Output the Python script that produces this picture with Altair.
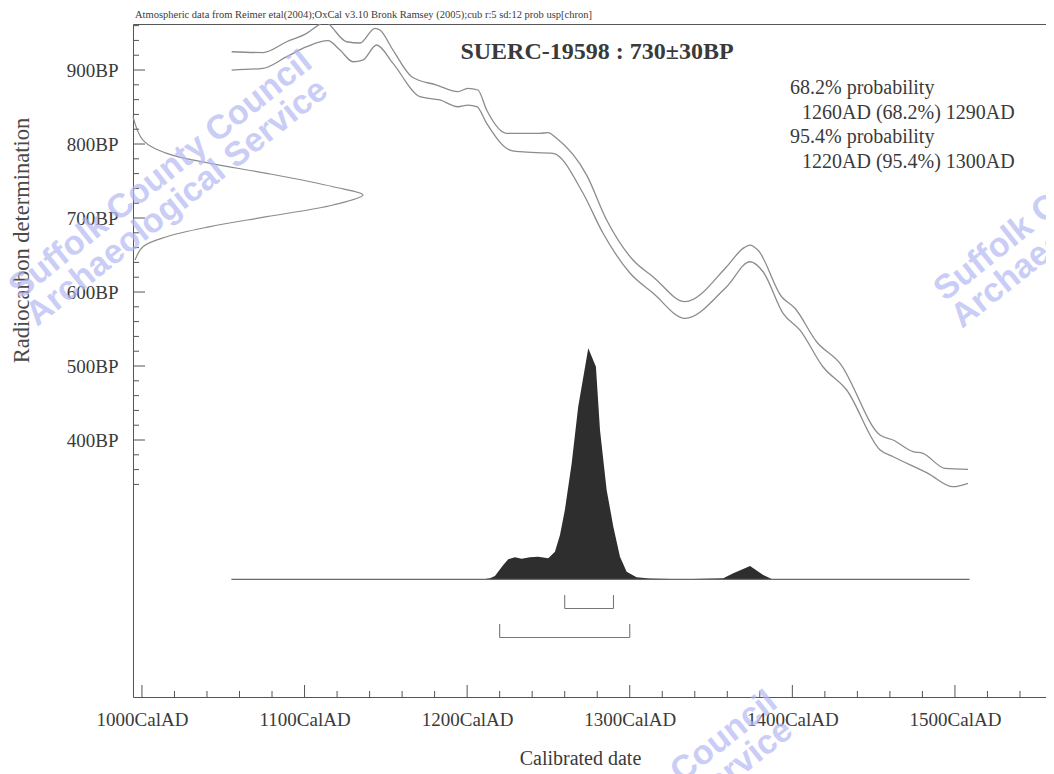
import altair as alt
import pandas as pd

# ---------------- data ----------------
# calibration curve (IntCal04, +/- 1 sigma envelope)
upper_year = [1055.2, 1074.4, 1089.0, 1101.3, 1109.5, 1113.0, 1115.6, 1125.9, 1134.1, 1143.3, 1146.4,
              1154.4, 1165.9, 1181.2, 1194.3, 1200.5, 1206.6, 1212.0, 1224.3, 1244.8, 1249.7, 1255.0,
              1273.5, 1285.8, 1302.0, 1314.3, 1334.0, 1359.6, 1369.7, 1374.0, 1378.8, 1393.4, 1401.6,
              1414.9, 1429.3, 1453.9, 1461.9, 1474.2, 1480.3, 1493.8, 1508.0]
upper_bp = [924.7, 923.6, 938.2, 949.6, 962.0, 966.0, 960.8, 938.2, 936.5, 956.4, 954.0,
            927.0, 891.0, 879.7, 870.7, 875.3, 873.0, 846.0, 814.5, 814.5, 815.3, 807.7,
            758.0, 697.3, 643.2, 620.7, 586.9, 634.2, 659.0, 663.5, 656.8, 593.6, 578.0,
            532.8, 503.6, 406.8, 400.0, 384.2, 382.0, 361.8, 360.4]
lower_year = [1055.2, 1074.4, 1089.0, 1101.3, 1114.4, 1121.8, 1129.8, 1135.9, 1144.3, 1154.4, 1171.0,
              1183.3, 1194.3, 1200.5, 1206.0, 1212.0, 1226.3, 1232.5, 1252.8, 1271.2, 1283.5, 1300.1,
              1314.3, 1334.0, 1359.6, 1374.0, 1382.0, 1394.3, 1404.7, 1418.8, 1433.4, 1454.0, 1462.0,
              1483.4, 1498.8, 1508.0]
lower_bp = [900.0, 902.3, 918.0, 931.5, 939.6, 927.0, 911.2, 913.5, 933.8, 909.0, 864.0,
            859.5, 850.4, 852.7, 850.4, 828.0, 791.9, 789.6, 787.4, 733.8, 679.7, 625.7,
            598.6, 564.5, 607.2, 640.9, 627.4, 571.2, 548.6, 499.0, 467.6, 386.5, 377.4,
            355.0, 336.9, 341.5]

# radiocarbon measurement 730 +/- 30 BP (relative probability along the BP axis)
c14_bp = [836.9, 805.4, 787.4, 773.9, 760.4, 742.3, 731.1, 717.6, 701.8, 688.3, 674.7, 661.2, 643.2]
c14_prob = [0.0, 0.043, 0.147, 0.335, 0.581, 0.870, 1.0, 0.870, 0.581, 0.335, 0.147, 0.043, 0.009]

# calibrated date distribution (relative probability)
dist_year = [1055, 1210, 1214.0, 1217.1, 1222.2, 1225.3, 1229.4, 1233.5, 1238.6, 1243.7, 1249.9,
             1254.0, 1257.1, 1260.1, 1264.3, 1268.3, 1274.5, 1279.2, 1281.7, 1285.8, 1289.9, 1294.0,
             1298.1, 1304.2, 1312.4, 1332.7, 1357.5, 1363.7, 1374.0, 1382.1, 1387.3, 1509]
dist_prob = [0, 0, 0.004, 0.014, 0.062, 0.087, 0.095, 0.089, 0.095, 0.098, 0.091,
             0.119, 0.192, 0.30, 0.502, 0.747, 1.0, 0.92, 0.646, 0.387, 0.228, 0.098,
             0.033, 0.009, 0.003, 0.0, 0.004, 0.026, 0.058, 0.019, 0.001, 0]

# highest probability ranges
range68 = [1260, 1290]
range95 = [1220, 1300]

# axes
x_labels = [1000, 1100, 1200, 1300, 1400, 1500]
x_minor = [v for v in range(1020, 1541, 20) if v % 100 != 0]
y_labels = [400, 500, 600, 700, 800, 900]
y_major = [400, 500, 600, 700, 800, 900]
y_minor = [v for v in range(340, 961, 20) if v % 100 != 0]

header = "Atmospheric data from Reimer etal(2004);OxCal v3.10 Bronk Ramsey (2005);cub r:5 sd:12 prob usp[chron]"
title = "SUERC-19598 : 730±30BP"
prob_lines = ["68.2% probability", "1260AD (68.2%) 1290AD", "95.4% probability", "1220AD (95.4%) 1300AD"]
wm_lines = ["Suffolk County Council", "Archaeological Service"]

# ---------------- layout ----------------
W, H = 913, 673
X_DOM = [994.5, 1556.0]
Y_DOM = [52.7, 962.2]
SERIF = "Liberation Serif"
CURVE = "#8c8c8c"
AXC = "#555555"
TXT = "#3a3a3a"


def xs():
    return alt.Scale(domain=X_DOM, nice=False, zero=False)


def ys():
    return alt.Scale(domain=Y_DOM, nice=False, zero=False)


x_axis = alt.Axis(values=x_labels, labelExpr="datum.value + 'CalAD'", ticks=False, tickSize=0,
                  labelPadding=13, labelFont=SERIF, labelFontSize=19, labelColor=TXT,
                  labelFlush=False, labelOverlap=False, grid=False,
                  domainColor=AXC, domainWidth=1,
                  title="Calibrated date", titleFont=SERIF, titleFontSize=20, titleFontWeight="normal",
                  titleColor=TXT, titleX=447, titleY=61, titleAlign="center", titleBaseline="middle")
y_axis = alt.Axis(values=y_labels, labelExpr="datum.value + 'BP'", ticks=False, tickSize=0,
                  labelPadding=15, labelFont=SERIF, labelFontSize=19, labelColor=TXT,
                  labelBaseline="middle", labelOverlap=False, grid=False,
                  domainColor=AXC, domainWidth=1,
                  title="Radiocarbon determination", titleFont=SERIF, titleFontSize=22.5,
                  titleFontWeight="normal", titleColor="#4a4a4a", titleX=-112, titleY=216,
                  titleAngle=270, titleAlign="center", titleBaseline="middle")

df_up = pd.DataFrame({"year": upper_year, "bp": upper_bp})
df_lo = pd.DataFrame({"year": lower_year, "bp": lower_bp})
df_c14 = pd.DataFrame({"bp": c14_bp, "prob": c14_prob})
df_dist = pd.DataFrame({"year": dist_year, "prob": dist_prob})

upper = alt.Chart(df_up).mark_line(color=CURVE, strokeWidth=1.3, clip=True,
                                   interpolate="monotone").encode(
    x=alt.X("year:Q", scale=xs(), axis=x_axis),
    y=alt.Y("bp:Q", scale=ys(), axis=y_axis),
)
lower = alt.Chart(df_lo).mark_line(color=CURVE, strokeWidth=1.3, clip=True,
                                   interpolate="monotone").encode(
    x=alt.X("year:Q", scale=xs(), axis=None),
    y=alt.Y("bp:Q", scale=ys(), axis=None),
)

c14 = alt.Chart(df_c14).mark_line(color=CURVE, strokeWidth=1.2, interpolate="catmull-rom").encode(
    x=alt.X("prob:Q", scale=alt.Scale(domain=[0, W / 230.0], nice=False, zero=False), axis=None),
    y=alt.Y("bp:Q", scale=ys(), axis=None),
    order=alt.Order("bp:Q"),
)

P_DOM = [-0.5096, 2.404]
dist = alt.Chart(df_dist).mark_area(color="#2e2e2e", opacity=1, interpolate="linear").encode(
    x=alt.X("year:Q", scale=xs(), axis=None),
    y=alt.Y("prob:Q", scale=alt.Scale(domain=P_DOM, nice=False, zero=False), axis=None),
    y2=alt.datum(0),
)
top_axis = alt.Axis(orient="top", labels=False, ticks=False, title=None, grid=False,
                    domainColor=AXC, domainWidth=1)
baseline = alt.Chart(pd.DataFrame({"a": [dist_year[0]], "b": [dist_year[-1]]})).mark_rule(
    color="#6a6a6a", strokeWidth=1.2).encode(
    x=alt.X("a:Q", scale=xs(), axis=top_axis),
    x2="b:Q",
    y=alt.Y("p:Q", scale=alt.Scale(domain=P_DOM, nice=False, zero=False), axis=None),
).transform_calculate(p="0")


def bracket(rng, top_px, bot_px):
    d = pd.DataFrame({"s": [rng[0]], "e": [rng[1]]})
    h = alt.Chart(d).mark_rule(color="#777777", strokeWidth=1.1).encode(
        x=alt.X("s:Q", scale=xs(), axis=None), x2="e:Q", y=alt.value(bot_px))
    ends = pd.DataFrame({"d": list(rng)})
    v = alt.Chart(ends).mark_rule(color="#777777", strokeWidth=1.1).encode(
        x=alt.X("d:Q", scale=xs(), axis=None), y=alt.value(top_px), y2=alt.value(bot_px))
    return [h, v]


br = bracket(range68, 571, 584.5) + bracket(range95, 600, 613.5)


# ticks pointing inward
def yticks(vals, size):
    return alt.Chart(pd.DataFrame({"v": vals})).mark_rule(color=AXC, strokeWidth=1).encode(
        y=alt.Y("v:Q", scale=ys(), axis=None), x=alt.value(0), x2=alt.value(size))


def xticks(vals, size):
    return alt.Chart(pd.DataFrame({"v": vals})).mark_rule(color=AXC, strokeWidth=1).encode(
        x=alt.X("v:Q", scale=xs(), axis=None), y=alt.value(H), y2=alt.value(H - size))


ticks = [yticks(y_major, 12), yticks(y_minor, 6), xticks(x_labels, 12), xticks(x_minor, 6)]


def text_layer(s, x, y, size, weight="normal", align="left", font=SERIF, color=TXT):
    return alt.Chart(pd.DataFrame({"t": [s]})).mark_text(
        font=font, fontSize=size, fontWeight=weight, align=align, baseline="middle", color=color
    ).encode(text="t:N", x=alt.value(x), y=alt.value(y))


texts = [
    text_layer(header, 2, -9.5, 10.5),
    text_layer(title, 464, 28, 24, weight="bold", align="center"),
]
prob_x = [657, 669, 657, 669]
prob_y = [64, 88.5, 113, 137.5]
for s, px, py in zip(prob_lines, prob_x, prob_y):
    texts.append(text_layer(s, px, py, 20))

# watermark
wm = []
wm_origins = [(-113, 276), (812, 278), (352, 916)]
for ox, oy in wm_origins:
    for i, s in enumerate(wm_lines):
        wm.append(alt.Chart(pd.DataFrame({"t": [s]})).mark_text(
            font="Liberation Sans", fontSize=34, fontWeight="bold", align="left",
            baseline="alphabetic", angle=321.5, color="#b4b8f2", opacity=0.7
        ).encode(text="t:N", x=alt.value(ox + 17 * i), y=alt.value(oy + 27 * i)))

chart = alt.layer(
    dist, baseline, upper, lower, c14, *br, *ticks, *texts, *wm
).resolve_scale(x="independent", y="independent").properties(
    width=W, height=H,
    autosize=alt.AutoSizeParams(type="none"),
    padding={"left": 125, "top": 16, "right": 0, "bottom": 77},
).configure_view(stroke=None).configure(background="white")

chart.save("out.html", embed_options={"renderer": "svg", "actions": False})
